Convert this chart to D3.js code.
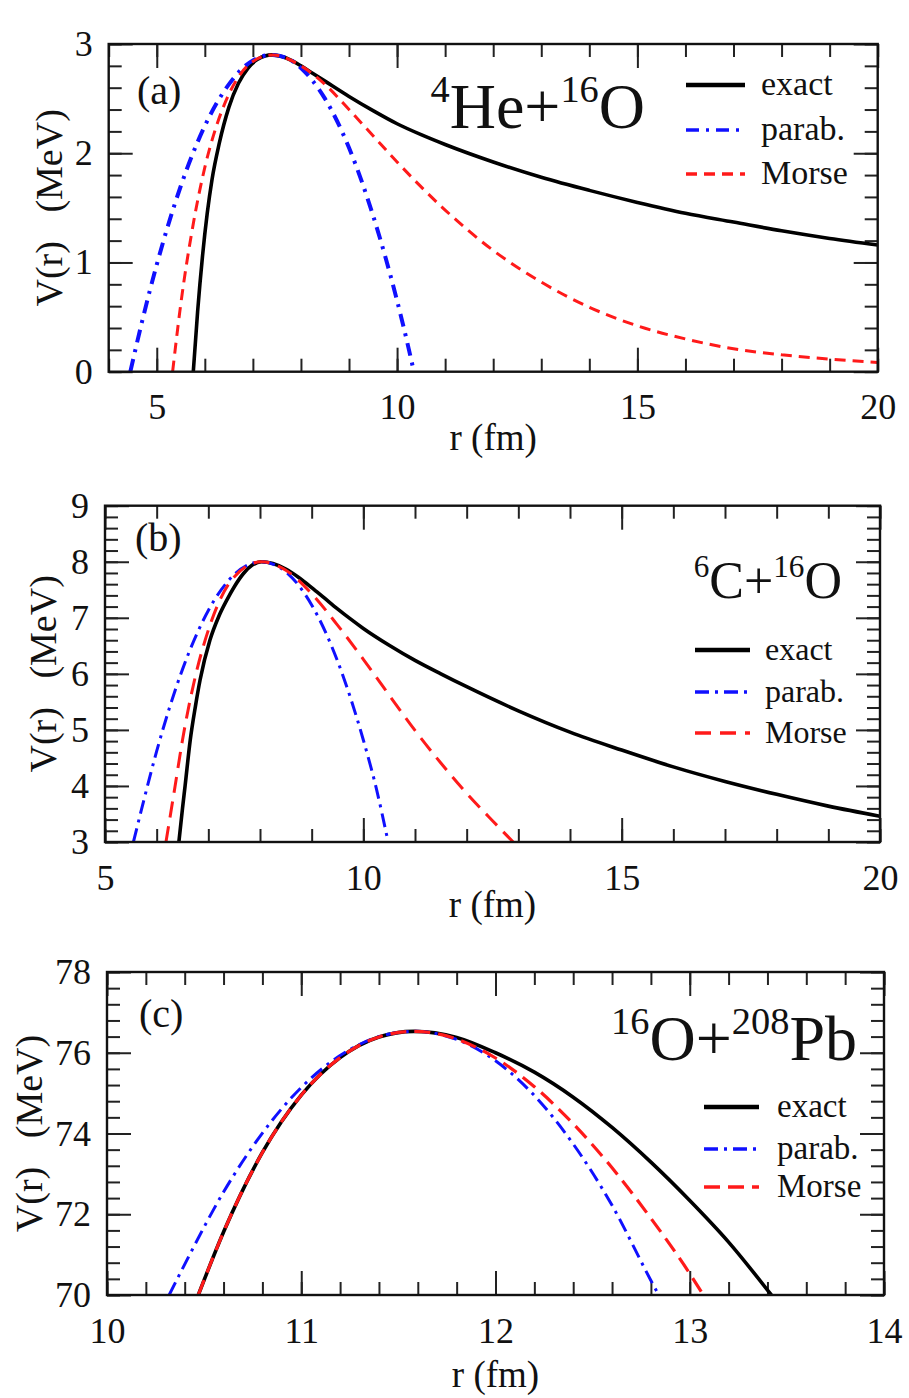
<!DOCTYPE html>
<html>
<head>
<meta charset="utf-8">
<script src="https://cdn.jsdelivr.net/npm/d3@7/dist/d3.min.js"></script>
<style>
  body { margin: 0; background: #fff; }
  svg text { font-family: "Liberation Serif", "Times New Roman", serif !important; fill: #111; }
</style>
</head>
<body>
<svg id="chart" width="909" height="1398"></svg>
<script>
// ---- data: [r (fm), V (MeV)] ----
const exactA = [[5.76,0],[5.85,0.55],[5.95,1.05],[6.05,1.45],[6.15,1.76],[6.3,2.09],[6.5,2.42],[6.7,2.64],[6.9,2.78],[7.1,2.86],[7.4,2.90],[7.6,2.885],[7.8,2.85],[8.0,2.80],[8.25,2.73],[8.5,2.66],[9.0,2.52],[9.5,2.39],[10,2.27],[10.5,2.17],[11,2.08],[12,1.92],[13,1.78],[14,1.66],[15,1.55],[16,1.45],[17,1.37],[18,1.29],[19,1.22],[20,1.16]];
const parabA = [[4.45,0],[4.7,0.47],[5.0,0.98],[5.5,1.70],[6.0,2.25],[6.5,2.63],[7.0,2.85],[7.4,2.90],[7.8,2.85],[8.0,2.78],[8.5,2.50],[9.0,2.05],[9.5,1.43],[10.0,0.65],[10.2,0.29],[10.35,0]];
const morseA = [[5.33,0],[5.5,0.62],[5.75,1.33],[6.0,1.87],[6.25,2.26],[6.5,2.54],[7.0,2.84],[7.4,2.90],[8.0,2.80],[8.5,2.63],[9.0,2.40],[9.5,2.16],[10,1.92],[11,1.48],[12,1.11],[13,0.82],[14,0.59],[15,0.42],[16,0.30],[17,0.21],[18,0.155],[19,0.115],[20,0.085]];

const exactB = [[6.43,3],[6.5,3.6],[6.55,4.0],[6.65,4.82],[6.75,5.42],[6.84,5.89],[7.03,6.60],[7.2,7.02],[7.36,7.32],[7.5,7.55],[7.68,7.79],[7.85,7.94],[8.03,8.0],[8.25,7.97],[8.5,7.87],[8.75,7.72],[9.0,7.54],[9.25,7.35],[9.5,7.16],[9.75,6.98],[10,6.81],[10.5,6.51],[11,6.24],[11.5,6.0],[12,5.77],[13,5.34],[14,4.96],[15,4.64],[16,4.34],[17,4.08],[18,3.85],[19,3.64],[20,3.46]];
const parabB = [[5.55,3],[5.75,3.74],[6.0,4.62],[6.5,6.08],[7.0,7.13],[7.5,7.77],[8.03,8.0],[8.5,7.82],[9.0,7.23],[9.5,6.23],[10.0,4.82],[10.25,3.96],[10.48,3.0]];
const morseB = [[6.18,3],[6.35,3.96],[6.5,4.82],[6.75,5.96],[7.0,6.78],[7.5,7.73],[8.03,8.0],[8.5,7.85],[9.0,7.43],[9.5,6.87],[10,6.26],[10.5,5.62],[11,4.99],[11.5,4.41],[12,3.87],[12.5,3.38],[12.9,3.0]];

const exactC = [[10.47,70],[10.6,71.56],[10.8,73.53],[11.0,74.95],[11.2,75.88],[11.4,76.39],[11.58,76.53],[11.8,76.38],[12.0,76.0],[12.2,75.52],[12.4,74.9],[12.6,74.15],[12.8,73.29],[13.0,72.34],[13.2,71.31],[13.42,70]];
const parabC = [[10.32,70],[10.4,70.76],[10.6,72.55],[10.8,74.01],[11.0,75.14],[11.2,75.93],[11.4,76.40],[11.58,76.53],[11.8,76.33],[12.0,75.80],[12.2,74.94],[12.4,73.74],[12.6,72.22],[12.8,70.36],[12.84,70]];
const morseC = [[10.47,70],[10.6,71.56],[10.8,73.53],[11.0,74.95],[11.2,75.88],[11.4,76.39],[11.58,76.53],[11.8,76.34],[12.0,75.87],[12.2,75.16],[12.4,74.24],[12.6,73.15],[12.8,71.90],[13.0,70.53],[13.07,70]];

const xTicksA = [5, 10, 15, 20], yTicksA = [0, 1, 2, 3];
const xTicksB = [5, 10, 15, 20], yTicksB = [3, 4, 5, 6, 7, 8, 9];
const xTicksC = [10, 11, 12, 13, 14], yTicksC = [70, 72, 74, 76, 78];

const seriesNames = ["exact", "parab.", "Morse"];

// ---- layout ----
const panels = [
  { id: "a", left: 108.7, right: 877.7, top: 44, bottom: 371.7, xDom: [4, 20], yDom: [0, 3],
    xTicks: xTicksA, yTicks: yTicksA, xMinor: 1, yMinor: 0.2,
    series: [exactA, parabA, morseA],
    dash: [null, "13,7,3,7", "11,7"], widths: [3.6, 4, 3],
    legend: { x1: 686, x2: 745, tx: 761, ys: [85, 130, 174], size: 34 },
    label: { text: "(a)", x: 137, y: 104 },
    title: { parts: [["4", 1], ["He+", 0], ["16", 1], ["O", 0]], x: 645, y: 128, size: 64 },
    xLabelY: 450, yLabelX: 49 },
  { id: "b", left: 105, right: 880, top: 505.7, bottom: 842, xDom: [5, 20], yDom: [3, 9],
    xTicks: xTicksB, yTicks: yTicksB, xMinor: 1, yMinor: 0.2,
    series: [exactB, parabB, morseB],
    dash: [null, "14,6,3,6", "16,9"], widths: [3.6, 3, 3],
    legend: { x1: 695, x2: 750, tx: 765, ys: [650, 692, 733], size: 32 },
    label: { text: "(b)", x: 135, y: 551 },
    title: { parts: [["6", 1], ["C+", 0], ["16", 1], ["O", 0]], x: 842, y: 598, size: 52 },
    xLabelY: 917, yLabelX: 43 },
  { id: "c", left: 107, right: 884, top: 972, bottom: 1295, xDom: [10, 14], yDom: [70, 78],
    xTicks: xTicksC, yTicks: yTicksC, xMinor: 0.2, yMinor: 0.4,
    series: [exactC, parabC, morseC],
    dash: [null, "14,6,3,6", "16,8"], widths: [3.6, 3, 3.2],
    legend: { x1: 704, x2: 759, tx: 777, ys: [1107, 1149, 1187], size: 33 },
    label: { text: "(c)", x: 139, y: 1027 },
    title: { parts: [["16", 1], ["O+", 0], ["208", 1], ["Pb", 0]], x: 857, y: 1060, size: 64 },
    xLabelY: 1387, yLabelX: 29 }
];

const colors = ["#000", "#1010ff", "#ff1a1a"];
const svg = d3.select("#chart");

panels.forEach(p => {
  const x = d3.scaleLinear().domain(p.xDom).range([p.left, p.right]);
  const y = d3.scaleLinear().domain(p.yDom).range([p.bottom, p.top]);
  const g = svg.append("g");

  const minorX = d3.range(p.xDom[0], p.xDom[1] + 1e-9, p.xMinor).map(v => +v.toFixed(3));
  const minorY = d3.range(p.yDom[0], p.yDom[1] + 1e-9, p.yMinor).map(v => +v.toFixed(3));

  const axes = [
    [d3.axisBottom(x), `translate(0,${p.bottom})`, p.xTicks, minorX, true],
    [d3.axisTop(x), `translate(0,${p.top})`, p.xTicks, minorX, false],
    [d3.axisLeft(y), `translate(${p.left},0)`, p.yTicks, minorY, true],
    [d3.axisRight(y), `translate(${p.right},0)`, p.yTicks, minorY, false]
  ];
  axes.forEach(([ax, tr, major, minor, labels], i) => {
    const horiz = i < 2;
    g.append("g").attr("transform", tr)
      .call(ax.tickValues(minor).tickSize(-13).tickFormat(""))
      .call(s => s.select(".domain").remove())
      .selectAll("line").attr("stroke", "#222").attr("stroke-width", 2);
    const a = g.append("g").attr("transform", tr)
      .call(ax.tickValues(major).tickSize(-24).tickPadding(horiz ? 22 : 16)
        .tickFormat(labels ? d3.format("d") : ""));
    a.select(".domain").remove();
    a.selectAll("line").attr("stroke", "#222").attr("stroke-width", 2);
    a.selectAll("text").attr("fill", "#111")
      .style("font-size", "36px")
      .style("font-family", "'Liberation Serif', serif");
  });

  // clip
  g.append("clipPath").attr("id", "clip" + p.id).append("rect")
    .attr("x", p.left).attr("y", p.top).attr("width", p.right - p.left).attr("height", p.bottom - p.top);

  const line = d3.line().x(d => x(d[0])).y(d => y(d[1])).curve(d3.curveMonotoneX);

  [0, 1, 2].forEach(i => {
    g.append("path").datum(p.series[i])
      .attr("clip-path", `url(#clip${p.id})`)
      .attr("d", line)
      .attr("fill", "none")
      .attr("stroke", colors[i])
      .attr("stroke-width", p.widths[i])
      .attr("stroke-dasharray", p.dash[i]);
  });

  // frame
  g.append("rect").attr("x", p.left).attr("y", p.top)
    .attr("width", p.right - p.left).attr("height", p.bottom - p.top)
    .attr("fill", "none").attr("stroke", "#111").attr("stroke-width", 2.4);

  // legend
  seriesNames.forEach((name, i) => {
    const ly = p.legend.ys[i];
    g.append("line").attr("x1", p.legend.x1).attr("x2", p.legend.x2)
      .attr("y1", ly).attr("y2", ly)
      .attr("stroke", colors[i]).attr("stroke-width", i === 0 ? 4.5 : 3.5)
      .attr("stroke-dasharray", p.dash[i]);
    g.append("text").attr("x", p.legend.tx).attr("y", ly).attr("dy", "0.3em")
      .style("font-size", p.legend.size + "px").text(name);
  });

  // panel label
  g.append("text").attr("x", p.label.x).attr("y", p.label.y)
    .style("font-size", "40px").text(p.label.text);

  // reaction title with superscripts
  const t = g.append("text").attr("x", p.title.x).attr("y", p.title.y)
    .attr("text-anchor", "end").style("font-size", p.title.size + "px");
  const raise = p.title.size * 0.4;
  let up = false;
  p.title.parts.forEach(([s, sup]) => {
    const ts = t.append("tspan").text(s);
    if (sup) { ts.style("font-size", (p.title.size * 0.6) + "px").attr("dy", up ? 0 : -raise); up = true; }
    else { ts.attr("dy", up ? raise : 0); up = false; }
  });

  // axis titles
  g.append("text").attr("x", (p.left + p.right) / 2).attr("y", p.xLabelY)
    .attr("text-anchor", "middle").style("font-size", "37px").text("r (fm)");
  g.append("text")
    .attr("transform", `translate(${p.yLabelX},${(p.top + p.bottom) / 2}) rotate(-90)`)
    .attr("text-anchor", "middle").attr("dy", "0.35em")
    .style("font-size", "38px").style("white-space", "pre").text("V(r)   (MeV)");
});
</script>
</body>
</html>
